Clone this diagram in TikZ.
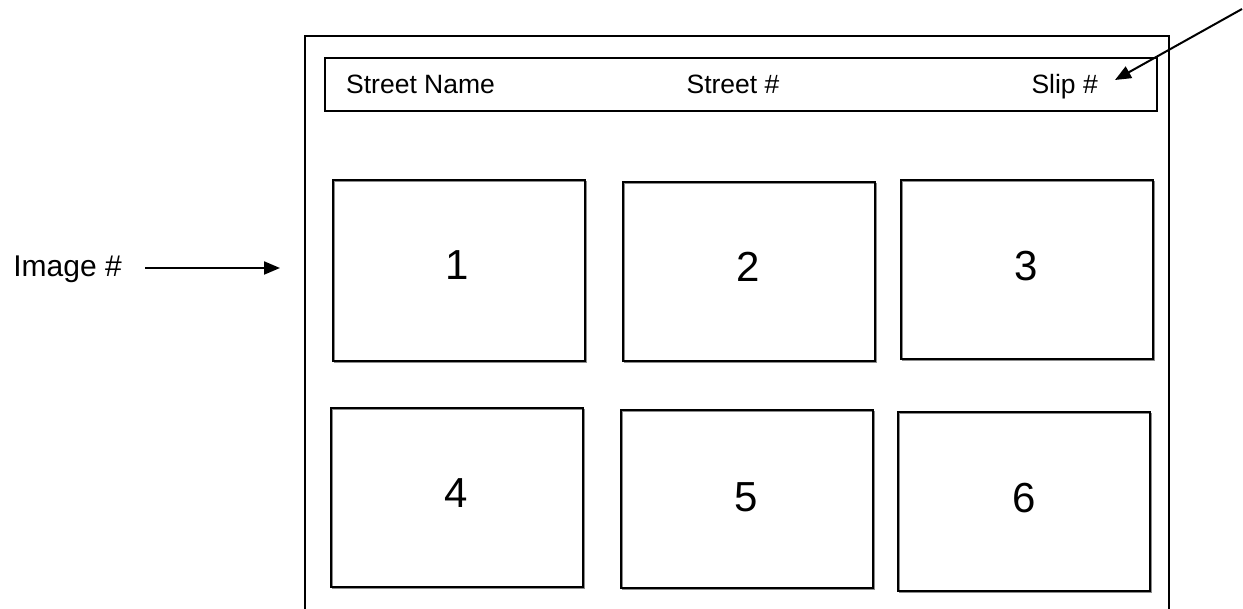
\documentclass[tikz,border=0pt]{standalone}
\usepackage{fontspec}
\setmainfont{Liberation Sans}
\usetikzlibrary{arrows.meta}
\begin{document}
\begin{tikzpicture}[x=1pt,y=-1pt,
  imgbox/.style={draw=black,line width=2pt,minimum width=252pt,inner sep=0pt,
    preaction={draw=black!45,line width=1.2pt,transform canvas={xshift=1.2pt,yshift=-1.2pt}}},
  numtxt/.style={inner sep=0pt,font=\fontsize{42}{46}\selectfont},
  lbl/.style={inner sep=0pt,font=\fontsize{26.5}{30}\selectfont},
  biglbl/.style={inner sep=0pt,font=\fontsize{30}{34}\selectfont},
  frame/.style={draw=black,line width=2.5pt},
  pointer/.style={draw=black,line width=2pt,-{Triangle[length=16pt,width=13pt]}}]
\useasboundingbox (0,0) rectangle (1243,609);
% outer frame (open at bottom)
\draw[frame] (305,609) -- (305,36) -- (1169,36) -- (1169,609);
% header
\node[draw=black,line width=2pt,minimum width=832pt,minimum height=53pt,inner sep=0pt] (header) at (741,84.5) {};
\node[lbl,anchor=base west] (sname) at (346,94) {Street Name};
\node[lbl,anchor=base] (snum) at (733,94) {Street \#};
\node[lbl,anchor=base east] (slip) at (1098,94) {Slip \#};
% image boxes
\node[imgbox,minimum height=181pt] (b1) at (459,270.5) {};
\node[imgbox,minimum height=179pt] (b2) at (749,271.5) {};
\node[imgbox,minimum height=179pt] (b3) at (1027,269.5) {};
\node[imgbox,minimum height=179pt] (b4) at (457,497.5) {};
\node[imgbox,minimum height=178pt] (b5) at (747,499) {};
\node[imgbox,minimum height=179pt] (b6) at (1024,501.5) {};
\node[numtxt] (n1) at (457,265) {1};
\node[numtxt] (n2) at (748,267) {2};
\node[numtxt] (n3) at (1026,266) {3};
\node[numtxt] (n4) at (456,493) {4};
\node[numtxt] (n5) at (746,497.5) {5};
\node[numtxt] (n6) at (1024,498) {6};
% image label and arrow
\node[biglbl,anchor=base east] (imglbl) at (122,277) {Image \#};
\coordinate (ia) at (145,268);
\coordinate (ib) at (280,268);
\draw[pointer] (ia) -- (ib);
% slip arrow
\coordinate (sa) at (1242,9);
\coordinate (sb) at (1115,80);
\draw[pointer] (sa) -- (sb);
\end{tikzpicture}
\end{document}
